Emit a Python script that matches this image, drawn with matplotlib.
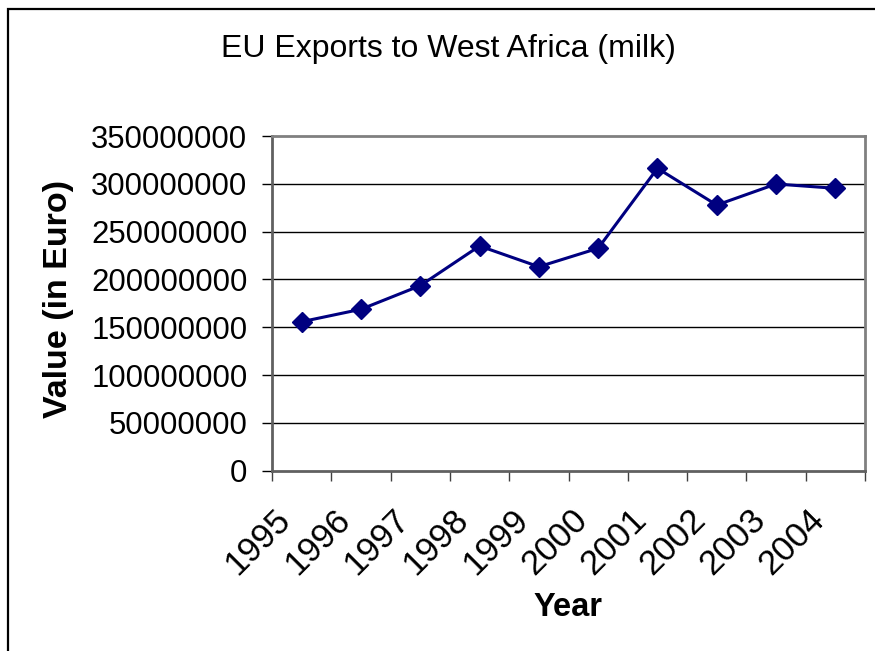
import numpy as np
import matplotlib
matplotlib.use("Agg")
import matplotlib.pyplot as plt
import matplotlib.transforms as mtrans
from matplotlib.patches import Rectangle

years = ["1995", "1996", "1997", "1998", "1999", "2000", "2001", "2002", "2003", "2004"]
values = [155.8e6, 168.8e6, 193.5e6, 235.0e6, 213.3e6, 232.6e6, 316.2e6, 277.8e6, 299.8e6, 295.3e6]
yticks = [0, 50000000, 100000000, 150000000, 200000000, 250000000, 300000000, 350000000]

plt.rcParams['font.family'] = ['Liberation Sans', 'DejaVu Sans']

fig = plt.figure(figsize=(8.75, 6.51), dpi=100)
ax = fig.add_axes([272/875, 1 - 470.7/651, 593/875, 334.7/651])

# chart area border (runs off the right and bottom edges)
fig.patches.append(Rectangle((8/875, -0.2), 1.5, 1.2 - 9/651,
                             transform=fig.transFigure, fill=False,
                             edgecolor='black', linewidth=1.6, zorder=0))

x = np.arange(len(years)) + 0.5
ax.plot(x, values, color='#000080', linewidth=2.2, marker='D', markersize=10.5,
        markerfacecolor='#000080', markeredgecolor='#000080', zorder=5, clip_on=False)

ax.set_xlim(0, len(years))
ax.set_ylim(0, 350000000)
ax.set_yticks(yticks)
ax.set_yticklabels([str(v) for v in yticks], fontsize=22.4)
for v in yticks[1:-1]:
    ax.axhline(v, color='black', linewidth=1, zorder=1)

# ticks on the category boundaries, labels on the category centres
ax.set_xticks(np.arange(len(years) + 1))
ax.set_xticklabels([])
ax.set_xticks(x, minor=True)
ax.set_xticklabels(years, minor=True, fontsize=25, rotation=45,
                   ha='right', va='top', rotation_mode='anchor')
ax.tick_params(axis='x', which='minor', length=0, pad=23)
ax.tick_params(axis='x', which='major', length=7.2, width=1, color='#404040', direction='out')
ax.tick_params(axis='y', length=7.2, width=1, color='black', direction='out', pad=10.5)
shift = mtrans.ScaledTranslation(-20/72, 0, fig.dpi_scale_trans)
for lab in ax.get_xticklabels(minor=True):
    lab.set_transform(lab.get_transform() + shift)

for s in ['top', 'right']:
    ax.spines[s].set_color('#808080')
    ax.spines[s].set_linewidth(2)
for s in ['left', 'bottom']:
    ax.spines[s].set_color('#606060')
    ax.spines[s].set_linewidth(2)

fig.text(59/875, 1 - 299/651, 'Value (in Euro)', fontsize=24.5, fontweight='bold',
         rotation=90, ha='center', va='center')
fig.text(568/875, 1 - 607/651, 'Year', fontsize=23.5, fontweight='bold', ha='center', va='center')
fig.text(448/875, 1 - 49/651, 'EU Exports to West Africa (milk)', fontsize=23, ha='center', va='center')

fig.savefig('out.png', dpi=100)
